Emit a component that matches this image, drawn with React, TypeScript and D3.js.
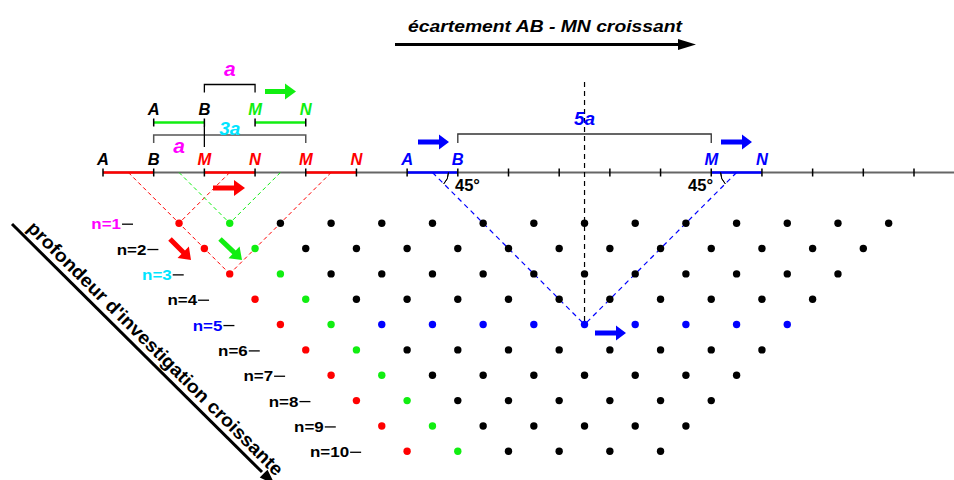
import React from 'react';
import * as d3 from 'd3';

// electrode positions along the profile (in units of a)
const electrodeTicks = d3.range(17);
// depth levels of the pseudo-section
const levels = [1, 2, 3, 4, 5, 6, 7, 8, 9, 10];
const dotsPerLevel = [15, 14, 13, 12, 11, 10, 9, 8, 7, 6];
const levelLabelColors = ['#ff00ff', '#000', '#00e5ff', '#000', '#0000ff', '#000', '#000', '#000', '#000', '#000'];
const blueLevel = 5;

// electrode labels on the ground line
const groundLabels = [
  { t: 'A', e: 0, c: '#000' },
  { t: 'B', e: 1, c: '#000' },
  { t: 'M', e: 2, c: '#ff0000' },
  { t: 'N', e: 3, c: '#ff0000' },
  { t: 'M', e: 4, c: '#ff0000' },
  { t: 'N', e: 5, c: '#ff0000' },
  { t: 'A', e: 6, c: '#0000ff' },
  { t: 'B', e: 7, c: '#0000ff' },
  { t: 'M', e: 12, c: '#0000ff' },
  { t: 'N', e: 13, c: '#0000ff' },
];
// shifted (green) array drawn above
const upperLabels = [
  { t: 'A', e: 1, c: '#000' },
  { t: 'B', e: 2, c: '#000' },
  { t: 'M', e: 3, c: '#11ee11' },
  { t: 'N', e: 4, c: '#11ee11' },
];
const redSegments = [[0, 1], [2, 3], [4, 5]];
const blueSegments = [[6, 7], [12, 13]];
const greenSegments = [[1, 2], [3, 4]];

const RED = '#ff0000';
const GREEN = '#11ee11';
const BLUE = '#0000ff';
const CYAN = '#00e5ff';
const MAGENTA = '#ff00ff';
const FONT = '"Liberation Sans", Arial, Helvetica, sans-serif';

const x = d3.scaleLinear().domain([0, 16]).range([103, 914]);
const step = x(1) - x(0);
const groundY = 172.5;
const y = d3.scaleLinear().domain([0, 1]).range([groundY, groundY + step]);

const dotX = (n: number, k: number) => x(k + (n + 2) / 2);
const dotY = (n: number) => y((n + 1) / 2);

function arrow(x1: number, y1: number, x2: number, y2: number, sw = 5, hl = 11, hw = 16) {
  const dx = x2 - x1, dy = y2 - y1;
  const len = Math.hypot(dx, dy);
  const ux = dx / len, uy = dy / len;
  const px = -uy, py = ux;
  const bx = x2 - ux * hl, by = y2 - uy * hl;
  const p = [
    [x1 + px * sw / 2, y1 + py * sw / 2],
    [bx + px * sw / 2, by + py * sw / 2],
    [bx + px * hw / 2, by + py * hw / 2],
    [x2, y2],
    [bx - px * hw / 2, by - py * hw / 2],
    [bx - px * sw / 2, by - py * sw / 2],
    [x1 - px * sw / 2, y1 - py * sw / 2],
  ];
  return p.map((q) => q.join(',')).join(' ');
}

function bracket(e1: number, e2: number, yy: number, drop: number) {
  return `M${x(e1)},${yy + drop}V${yy}H${x(e2)}V${yy + drop}`;
}

export default function App() {
  const arcL = d3.arc()({ innerRadius: 16, outerRadius: 16, startAngle: Math.PI / 2, endAngle: (3 * Math.PI) / 4 } as any) as string;
  const arcR = d3.arc()({ innerRadius: 16, outerRadius: 16, startAngle: -Math.PI / 2, endAngle: (-3 * Math.PI) / 4 } as any) as string;
  const letter = { fontFamily: FONT, fontWeight: 'bold', fontStyle: 'italic', fontSize: 16.5 } as const;
  const centre = dotX(blueLevel, 6);

  return (
    <svg width={954} height={480} style={{ position: 'fixed', left: 0, top: 0, background: '#fff' }}>
      {/* title arrow */}
      <text x={545} y={32} textAnchor="middle" textLength={274} lengthAdjust="spacingAndGlyphs"
        style={{ fontFamily: FONT, fontWeight: 'bold', fontStyle: 'italic', fontSize: 17 }}>
        écartement AB - MN croissant
      </text>
      <line x1={395} y1={44.5} x2={682} y2={44.5} stroke="#000" strokeWidth={3} />
      <polygon points="678,39 696,44.5 678,50" fill="#000" />

      {/* depth arrow */}
      <line x1={12} y1={224} x2={262} y2={472} stroke="#000" strokeWidth={3} />
      <polygon points={arrow(250, 460, 275, 484.8, 0, 16, 11)} fill="#000" />
      <text transform="translate(26,229) rotate(44.8)" textLength={352} lengthAdjust="spacingAndGlyphs"
        style={{ fontFamily: FONT, fontWeight: 'bold', fontSize: 18.5 }}>
        profondeur d'investigation croissante
      </text>

      {/* ground line */}
      <line x1={x(0)} y1={groundY} x2={954} y2={groundY} stroke="#666" strokeWidth={2} />
      {redSegments.map(([a, b], i) => (
        <line key={'r' + i} x1={x(a)} x2={x(b)} y1={groundY} y2={groundY} stroke={RED} strokeWidth={2.5} />
      ))}
      {blueSegments.map(([a, b], i) => (
        <line key={'b' + i} x1={x(a)} x2={x(b)} y1={groundY} y2={groundY} stroke={BLUE} strokeWidth={2.5} />
      ))}
      {electrodeTicks.map((e) => (
        <line key={'t' + e} x1={x(e)} x2={x(e)} y1={groundY - 4} y2={groundY + 4} stroke="#000" strokeWidth={1.5} />
      ))}

      {/* upper (green) array */}
      {greenSegments.map(([a, b], i) => (
        <line key={'g' + i} x1={x(a)} x2={x(b)} y1={122.5} y2={122.5} stroke={GREEN} strokeWidth={2.5} />
      ))}
      {[1, 2, 3, 4].map((e) => (
        <line key={'gt' + e} x1={x(e)} x2={x(e)} y1={118.5} y2={126.5} stroke="#000" strokeWidth={1.5} />
      ))}

      {/* brackets */}
      <path d={bracket(2, 3, 84.5, 8)} fill="none" stroke="#000" strokeWidth={1.3} />
      <path d={bracket(1, 4, 135, 8)} fill="none" stroke="#555" strokeWidth={1.5} />
      <line x1={x(2)} x2={x(2)} y1={126} y2={147} stroke="#000" strokeWidth={1.3} />
      <path d={bracket(7, 12, 134, 9)} fill="none" stroke="#333" strokeWidth={1.3} />

      {/* dashed construction lines */}
      <g fill="none" strokeWidth={1} strokeDasharray="4,3">
        <line x1={x(0.5)} y1={groundY} x2={dotX(3, 0)} y2={dotY(3)} stroke={RED} />
        <line x1={x(2.5)} y1={groundY} x2={dotX(1, 0)} y2={dotY(1)} stroke={RED} />
        <line x1={x(4.5)} y1={groundY} x2={dotX(3, 0)} y2={dotY(3)} stroke={RED} />
        <line x1={x(1.5)} y1={groundY} x2={dotX(1, 1)} y2={dotY(1)} stroke={GREEN} />
        <line x1={x(3.5)} y1={groundY} x2={dotX(1, 1)} y2={dotY(1)} stroke={GREEN} />
      </g>
      <g fill="none" strokeWidth={1.2} strokeDasharray="5,4" stroke={BLUE}>
        <line x1={x(6.5)} y1={groundY} x2={centre} y2={dotY(blueLevel)} />
        <line x1={x(12.5)} y1={groundY} x2={centre} y2={dotY(blueLevel)} />
      </g>
      <line x1={centre} x2={centre} y1={82} y2={dotY(blueLevel)} stroke="#000" strokeWidth={1.2} strokeDasharray="5,4" />

      {/* 45° angles */}
      <path d={arcL} transform={`translate(${x(6.5)},${groundY})`} fill="none" stroke="#000" strokeWidth={1} />
      <path d={arcR} transform={`translate(${x(12.5)},${groundY})`} fill="none" stroke="#000" strokeWidth={1} />
      <text x={455} y={191} style={{ fontFamily: FONT, fontWeight: 'bold', fontSize: 16.5 }}>45°</text>
      <text x={713} y={191} textAnchor="end" style={{ fontFamily: FONT, fontWeight: 'bold', fontSize: 16.5 }}>45°</text>

      {/* electrode labels */}
      {groundLabels.map((l, i) => (
        <text key={'gl' + i} x={x(l.e)} y={165} textAnchor="middle" fill={l.c} style={letter}>{l.t}</text>
      ))}
      {upperLabels.map((l, i) => (
        <text key={'ul' + i} x={x(l.e)} y={115} textAnchor="middle" fill={l.c} style={letter}>{l.t}</text>
      ))}

      {/* spacing labels */}
      <text x={x(2.5)} y={76} textAnchor="middle" fill={MAGENTA} style={{ ...letter, fontSize: 21 }}>a</text>
      <text x={x(1.5)} y={153} textAnchor="middle" fill={MAGENTA} style={{ ...letter, fontSize: 21 }}>a</text>
      <text x={x(2.5)} y={135} textAnchor="middle" fill={CYAN} style={{ ...letter, fontSize: 19 }}>3a</text>
      <text x={centre} y={125} textAnchor="middle" fill={BLUE} style={{ ...letter, fontSize: 19 }}>5a</text>

      {/* motion arrows */}
      <polygon points={arrow(265, 91.5, 296, 91.5, 5, 11, 16)} fill={GREEN} />
      <polygon points={arrow(213, 188, 245, 188, 5, 11, 16)} fill={RED} />
      <polygon points={arrow(170, 239, 191, 260, 5, 11, 16)} fill={RED} />
      <polygon points={arrow(220, 239, 242, 260, 5, 11, 16)} fill={GREEN} />
      <polygon points={arrow(418, 142, 449, 142, 5, 10, 15)} fill={BLUE} />
      <polygon points={arrow(721, 142, 752, 142, 5, 10, 15)} fill={BLUE} />
      <polygon points={arrow(595, 333, 626, 333, 5, 10, 15)} fill={BLUE} />

      {/* level labels */}
      {levels.map((n, i) => {
        const end = dotX(n, 0) - 46;
        return (
          <g key={'lv' + n}>
            <line x1={end - 11} x2={end} y1={dotY(n) + 1} y2={dotY(n) + 1} stroke="#000" strokeWidth={1.3} />
            <text transform={`translate(${end - 12},${dotY(n) + 6}) scale(1.13,1)`} textAnchor="end" fill={levelLabelColors[i]}
              style={{ fontFamily: FONT, fontWeight: 'bold', fontSize: 15 }}>{`n=${n}`}</text>
          </g>
        );
      })}

      {/* pseudo-section points */}
      {levels.map((n, i) =>
        d3.range(dotsPerLevel[i]).map((k) => {
          const c = k === 0 ? RED : k === 1 ? GREEN : n === blueLevel ? BLUE : '#000';
          return <circle key={`d${n}-${k}`} cx={dotX(n, k)} cy={dotY(n)} r={3.7} fill={c} />;
        })
      )}
    </svg>
  );
}
